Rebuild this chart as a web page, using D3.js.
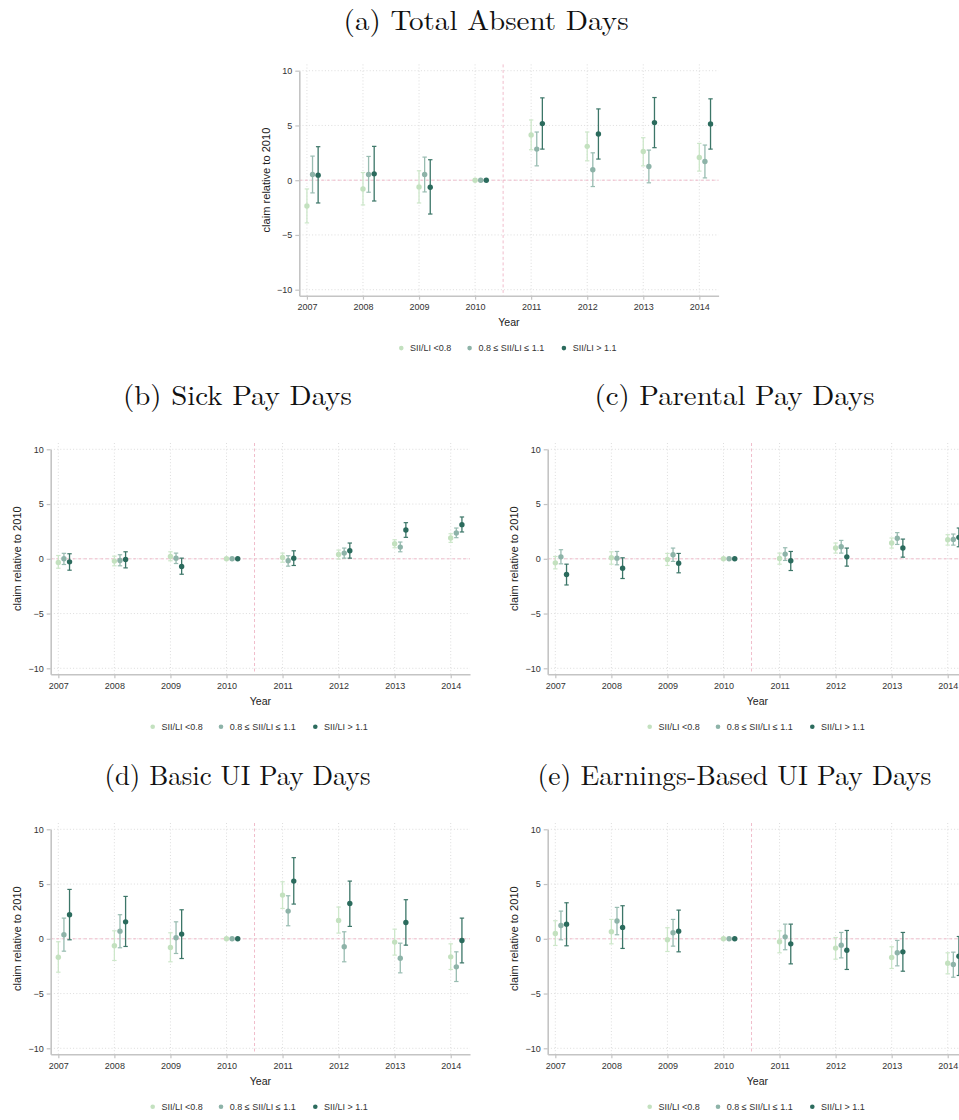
<!DOCTYPE html>
<html>
<head>
<meta charset="utf-8">
<script src="https://cdn.jsdelivr.net/npm/d3@7"></script>
<style>
  html, body { margin: 0; padding: 0; background: #fff; overflow: hidden; }
  svg { display: block; }
</style>
</head>
<body>
<svg id="fig" width="959" height="1120"></svg>
<script>
// Event-study estimates (claim days relative to 2010) by SII/LI group
const years = [2007, 2008, 2009, 2010, 2011, 2012, 2013, 2014];
const groups = ["SII/LI <0.8", "0.8 \u2264 SII/LI \u2264 1.1", "SII/LI > 1.1"];
const yTicks = [-10, -5, 0, 5, 10];
const panelTitles = [
  "(a) Total Absent Days",
  "(b) Sick Pay Days",
  "(c) Parental Pay Days",
  "(d) Basic UI Pay Days",
  "(e) Earnings-Based UI Pay Days"
];

// (a) Total absent days
const totalEst = [
  [-2.35, -0.80, -0.61, 0, 4.13, 3.09, 2.63, 2.08],
  [0.52, 0.52, 0.52, 0, 2.84, 0.95, 1.25, 1.71],
  [0.46, 0.58, -0.64, 0, 5.17, 4.22, 5.26, 5.14]
];
const totalLo = [
  [-3.90, -2.26, -2.08, 0, 2.78, 1.77, 1.31, 0.83],
  [-1.16, -1.10, -1.07, 0, 1.31, -0.58, -0.24, 0.21],
  [-2.08, -1.90, -3.09, 0, 2.84, 1.93, 2.97, 2.84]
];
const totalHi = [
  [-0.80, 0.70, 0.86, 0, 5.50, 4.40, 3.88, 3.36],
  [2.20, 2.17, 2.11, 0, 4.40, 2.50, 2.75, 3.21],
  [3.06, 3.09, 1.87, 0, 7.52, 6.51, 7.55, 7.43]
];

// (b) Sick pay days
const sickEst = [
  [-0.34, -0.21, 0.21, 0, 0.12, 0.40, 1.38, 1.90],
  [0.00, -0.15, 0.06, 0, -0.18, 0.52, 1.07, 2.35],
  [-0.28, -0.06, -0.70, 0, 0.06, 0.73, 2.63, 3.12]
];
const sickLo = [
  [-0.86, -0.64, -0.18, 0, -0.31, -0.03, 1.01, 1.50],
  [-0.52, -0.64, -0.43, 0, -0.67, 0.06, 0.64, 1.93],
  [-1.04, -0.83, -1.41, 0, -0.61, 0.06, 1.96, 2.45]
];
const sickHi = [
  [0.30, 0.24, 0.64, 0, 0.52, 0.80, 1.74, 2.29],
  [0.50, 0.37, 0.52, 0, 0.28, 0.98, 1.53, 2.81],
  [0.46, 0.64, 0.06, 0, 0.73, 1.44, 3.30, 3.82]
];

// (c) Parental pay days
const parentalEst = [
  [-0.37, 0.09, -0.06, 0, 0.03, 0.98, 1.44, 1.74],
  [0.18, 0.06, 0.37, 0, 0.43, 1.10, 1.87, 1.77],
  [-1.44, -0.86, -0.40, 0, -0.18, 0.18, 0.98, 1.96]
];
const parentalLo = [
  [-0.92, -0.49, -0.61, 0, -0.49, 0.52, 0.98, 1.25],
  [-0.46, -0.55, -0.24, 0, -0.15, 0.52, 1.31, 1.25],
  [-2.39, -1.80, -1.28, 0, -1.07, -0.67, 0.15, 1.10]
];
const parentalHi = [
  [0.21, 0.64, 0.49, 0, 0.52, 1.44, 1.90, 2.20],
  [0.83, 0.67, 0.98, 0, 1.01, 1.68, 2.39, 2.26],
  [-0.49, 0.09, 0.49, 0, 0.67, 0.98, 1.80, 2.81]
];

// (d) Basic UI pay days
const basicEst = [
  [-1.68, -0.64, -0.79, 0, 3.99, 1.68, -0.30, -1.65],
  [0.37, 0.70, 0.09, 0, 2.53, -0.73, -1.77, -2.56],
  [2.20, 1.55, 0.43, 0, 5.27, 3.23, 1.49, -0.15]
];
const basicLo = [
  [-3.05, -1.98, -2.10, 0, 2.77, 0.52, -1.49, -2.80],
  [-1.13, -0.82, -1.34, 0, 1.19, -2.10, -3.11, -3.90],
  [-0.09, -0.70, -1.80, 0, 3.17, 1.13, -0.58, -2.20]
];
const basicHi = [
  [-0.27, 0.73, 0.55, 0, 5.21, 2.90, 0.88, -0.46],
  [1.89, 2.20, 1.55, 0, 3.93, 0.64, -0.40, -1.19],
  [4.51, 3.87, 2.65, 0, 7.41, 5.27, 3.57, 1.89]
];

// (e) Earnings-based UI pay days
const earningsEst = [
  [0.49, 0.64, -0.09, 0, -0.27, -0.85, -1.71, -2.23],
  [1.22, 1.62, 0.55, 0, 0.18, -0.58, -1.28, -2.35],
  [1.34, 1.04, 0.70, 0, -0.46, -1.04, -1.19, -1.59]
];
const earningsLo = [
  [-0.61, -0.46, -1.16, 0, -1.28, -1.86, -2.71, -3.20],
  [-0.09, 0.37, -0.67, 0, -1.00, -1.74, -2.47, -3.51],
  [-0.64, -0.88, -1.19, 0, -2.29, -2.80, -2.96, -3.35]
];
const earningsHi = [
  [1.65, 1.77, 1.01, 0, 0.73, 0.12, -0.73, -1.28],
  [2.53, 2.87, 1.77, 0, 1.34, 0.58, -0.15, -1.22],
  [3.29, 3.02, 2.62, 0, 1.34, 0.76, 0.58, 0.21]
];

// ---------- styling / layout ----------
const dotColors = ["#c3e1bf", "#8db3a8", "#2b6b5d"];
const barColors = ["#cde7ca", "#98bcb1", "#3c7668"];
const seriesShift = [0, 0.1, 0.2];
const refLineColor = "#f0bccb";
const gridColor = "#d9d9d9";
const axisColor = "#c4c4c4";
const textColor = "#333";
const sans = "'Liberation Sans', Arial, Helvetica, sans-serif";
const serif = "'Latin Modern Roman', 'CMU Serif', 'Liberation Serif', 'Times New Roman', serif";

// panel placement (offset of each panel's frame) and title widths
const panels = [
  { est: totalEst,    lo: totalLo,    hi: totalHi,    dx: 248.6, dy: -378.6, titleW: 285, titleDy: 3.5 },
  { est: sickEst,     lo: sickLo,     hi: sickHi,     dx: 0,     dy: 0,      titleW: 229, titleDy: 0 },
  { est: parentalEst, lo: parentalLo, hi: parentalHi, dx: 497,   dy: 0,      titleW: 280, titleDy: 0 },
  { est: basicEst,    lo: basicLo,    hi: basicHi,    dx: 0,     dy: 380,    titleW: 266, titleDy: 0 },
  { est: earningsEst, lo: earningsLo, hi: earningsHi, dx: 497,   dy: 380,    titleW: 394, titleDy: 0 }
];

// frame geometry of a single panel
const F = {
  left: 50.7, right: 470, top: 443, axisTop: 449.3, bottom: 674.3,
  titleX: 237.5, titleY: 405,
  legendY: 726.7
};

const x = d3.scaleLinear().domain([2006.864, 2014.344]).range([F.left, F.right]);
const y = d3.scaleLinear().domain([-10.548, 10]).range([F.bottom, F.axisTop]);

const svg = d3.select("#fig");

panels.forEach((p, i) => {
  const g = svg.append("g").attr("transform", `translate(${p.dx},${p.dy})`);

  // title
  g.append("text")
    .attr("x", F.titleX).attr("y", F.titleY + p.titleDy)
    .attr("text-anchor", "middle")
    .attr("font-family", serif).attr("font-size", 27.5)
    .attr("fill", "#111")
    .attr("textLength", p.titleW).attr("lengthAdjust", "spacingAndGlyphs")
    .text(panelTitles[i]);

  // dotted grid
  g.append("g").selectAll("line.vg").data(years).join("line")
    .attr("x1", d => x(d)).attr("x2", d => x(d))
    .attr("y1", F.top).attr("y2", F.bottom)
    .attr("stroke", gridColor).attr("stroke-width", 0.9)
    .attr("stroke-dasharray", "1,2.2");
  g.append("g").selectAll("line.hg").data(yTicks).join("line")
    .attr("x1", F.left).attr("x2", F.right)
    .attr("y1", d => y(d)).attr("y2", d => y(d))
    .attr("stroke", gridColor).attr("stroke-width", 0.9)
    .attr("stroke-dasharray", "1,2.2");

  // reference lines: zero and the 2010/2011 break
  g.append("line")
    .attr("x1", F.left).attr("x2", F.right)
    .attr("y1", y(0)).attr("y2", y(0))
    .attr("stroke", refLineColor).attr("stroke-width", 1)
    .attr("stroke-dasharray", "3,2.5");
  g.append("line")
    .attr("x1", x(2010.5)).attr("x2", x(2010.5))
    .attr("y1", F.top).attr("y2", F.bottom)
    .attr("stroke", refLineColor).attr("stroke-width", 1)
    .attr("stroke-dasharray", "3,2.5");

  // axes
  const yAxis = g.append("g")
    .attr("transform", `translate(${F.left},0)`)
    .call(d3.axisLeft(y).tickValues(yTicks).tickSize(4).tickPadding(3).tickSizeOuter(0));
  const xAxis = g.append("g")
    .attr("transform", `translate(0,${F.bottom})`)
    .call(d3.axisBottom(x).tickValues(years).tickFormat(d3.format("d")).tickSize(4).tickPadding(4).tickSizeOuter(0));
  [yAxis, xAxis].forEach(ax => {
    ax.select(".domain").attr("stroke", axisColor).attr("stroke-width", 1.6);
    ax.selectAll(".tick line").attr("stroke", axisColor).attr("stroke-width", 1.2);
    ax.selectAll(".tick text").attr("fill", textColor)
      .attr("font-family", sans).attr("font-size", 9);
  });

  // axis titles
  g.append("text")
    .attr("x", (F.left + F.right) / 2).attr("y", 705)
    .attr("text-anchor", "middle")
    .attr("font-family", sans).attr("font-size", 10.6).attr("fill", "#222")
    .text("Year");
  g.append("text")
    .attr("transform", `translate(21.3,${(F.top + F.bottom) / 2}) rotate(-90)`)
    .attr("text-anchor", "middle")
    .attr("font-family", sans).attr("font-size", 11.1).attr("fill", "#222")
    .text("claim relative to 2010");

  // estimates with confidence intervals
  groups.forEach((name, s) => {
    const pts = years.map((yr, k) => ({
      xv: yr + seriesShift[s], est: p.est[s][k], lo: p.lo[s][k], hi: p.hi[s][k]
    }));
    const sg = g.append("g");
    const bars = pts.filter(d => d.hi > d.lo);
    sg.selectAll("line.ci").data(bars).join("line")
      .attr("x1", d => x(d.xv)).attr("x2", d => x(d.xv))
      .attr("y1", d => y(d.lo)).attr("y2", d => y(d.hi))
      .attr("stroke", barColors[s]).attr("stroke-width", 1.3);
    ["lo", "hi"].forEach(k => {
      sg.selectAll("line.cap-" + k).data(bars).join("line")
        .attr("x1", d => x(d.xv) - 2.2).attr("x2", d => x(d.xv) + 2.2)
        .attr("y1", d => y(d[k])).attr("y2", d => y(d[k]))
        .attr("stroke", barColors[s]).attr("stroke-width", 1.2);
    });
    sg.selectAll("circle").data(pts).join("circle")
      .attr("cx", d => x(d.xv)).attr("cy", d => y(d.est))
      .attr("r", 2.7).attr("fill", dotColors[s]);
  });

  // legend
  const legendX = [152.7, 221, 315.3];
  const lg = g.append("g");
  groups.forEach((name, s) => {
    lg.append("circle")
      .attr("cx", legendX[s]).attr("cy", F.legendY).attr("r", 2.3)
      .attr("fill", dotColors[s]);
    lg.append("text")
      .attr("x", legendX[s] + 8.8).attr("y", F.legendY + 3.1)
      .attr("font-family", sans).attr("font-size", 9).attr("fill", textColor)
      .text(name);
  });
});
</script>
</body>
</html>
